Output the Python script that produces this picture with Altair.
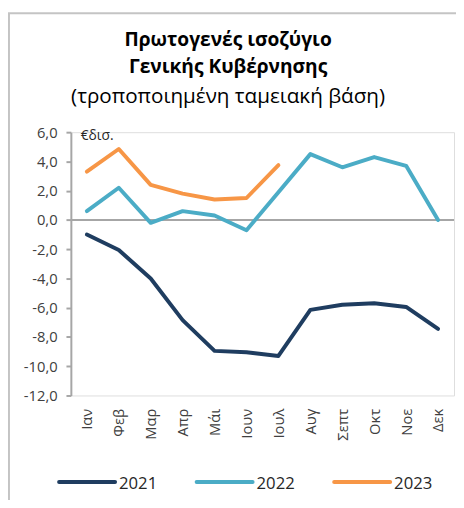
import altair as alt
import pandas as pd

months = ["Ιαν", "Φεβ", "Μαρ", "Απρ", "Μάι", "Ιουν", "Ιουλ", "Αυγ", "Σεπτ", "Οκτ", "Νοε", "Δεκ"]
v2021 = [-1.0, -2.05, -4.0, -6.85, -8.95, -9.05, -9.3, -6.15, -5.8, -5.7, -5.95, -7.45]
v2022 = [0.6, 2.2, -0.2, 0.6, 0.3, -0.7, 1.9, 4.5, 3.6, 4.3, 3.7, 0.0]
v2023 = [3.3, 4.85, 2.4, 1.8, 1.4, 1.5, 3.75, None, None, None, None, None]
years = ["2021", "2022", "2023"]
colors = ["#1f3d60", "#4bacc6", "#f79646"]
y_ticks = [-12, -10, -8, -6, -4, -2, 0, 2, 4, 6]
title_lines = ["Πρωτογενές ισοζύγιο", "Γενικής Κυβέρνησης", "(τροποποιημένη ταμειακή βάση)"]
unit_label = "€δισ."

rows = []
for yr, vals in zip(years, [v2021, v2022, v2023]):
    for m, v in zip(months, vals):
        if v is not None:
            rows.append({"month": m, "year": yr, "value": v})
df = pd.DataFrame(rows)

FONT = "Open Sans"
W, H = 390, 268
color_scale = alt.Scale(domain=years, range=colors)
y_scale = alt.Scale(domain=[-12, 6], nice=False, zero=False)
y_axis = alt.Axis(values=y_ticks, grid=False, domainColor="#a6a6a6", domainWidth=2,
                  tickColor="#a6a6a6", tickWidth=2, tickSize=5, labelPadding=9,
                  labelOverlap=False, labelFontSize=15, labelColor="#404040", labelFont=FONT,
                  labelExpr="(datum.value < 0 ? '-' : '') + replace(format(abs(datum.value), '.1f'), '.', ',')")

zero = alt.Chart(pd.DataFrame({"y": [0]})).mark_rule(color="#a6a6a6", strokeWidth=2).encode(
    y=alt.Y("y:Q", title=None, scale=y_scale, axis=y_axis))

lines = alt.Chart(df).mark_line(strokeWidth=4, strokeCap="round", strokeJoin="round").encode(
    x=alt.X("month:N", sort=months, title=None,
            scale=alt.Scale(type="point", padding=0.5, domain=months),
            axis=alt.Axis(labelAngle=-90, domain=False, ticks=False, labelPadding=13,
                          labelFontSize=15, labelColor="#404040", labelFont=FONT)),
    y=alt.Y("value:Q", title=None, scale=y_scale, axis=y_axis),
    color=alt.Color("year:N", scale=color_scale, legend=None),
)

border_left = alt.Chart(pd.DataFrame({"a": [0]})).mark_rule(color="#c4c4c4", strokeWidth=2).encode(
    x=alt.value(-63), y=alt.value(-121), y2=alt.value(400))
border_top = alt.Chart(pd.DataFrame({"a": [0]})).mark_rule(color="#c4c4c4", strokeWidth=2).encode(
    x=alt.value(-64), x2=alt.value(W + 10), y=alt.value(-121))

title_layers = []
for txt, yy, wt, fs in zip(title_lines, [-94, -66, -36], ["bold", "bold", "normal"], [19.5, 19.5, 21]):
    title_layers.append(
        alt.Chart(pd.DataFrame({"t": [txt]})).mark_text(
            font=FONT, fontSize=fs, fontWeight=wt, color="#000000", align="center", baseline="middle"
        ).encode(x=alt.value(160), y=alt.value(yy), text="t:N")
    )

unit = alt.Chart(pd.DataFrame({"t": [unit_label]})).mark_text(
    font=FONT, fontSize=14, color="#262626", align="left", baseline="middle"
).encode(x=alt.value(10), y=alt.value(4), text="t:N")

legend_layers = []
for i, yr in enumerate(years):
    x0 = -12 + i * 140
    ldf = pd.DataFrame({"year": [yr]})
    legend_layers.append(
        alt.Chart(ldf).mark_rule(strokeWidth=4, strokeCap="round").encode(
            x=alt.value(x0), x2=alt.value(x0 + 57), y=alt.value(356),
            color=alt.Color("year:N", scale=color_scale, legend=None))
    )
    legend_layers.append(
        alt.Chart(ldf).mark_text(font=FONT, fontSize=17, color="#262626", align="left", baseline="middle").encode(
            x=alt.value(x0 + 61), y=alt.value(358), text="year:N")
    )

chart = alt.layer(border_left, border_top, zero, lines, *title_layers, unit, *legend_layers).properties(
    width=W, height=H,
    autosize=alt.AutoSizeParams(type="none"),
    padding={"left": 64, "top": 122, "right": 2, "bottom": 102},
).configure_view(stroke=None).configure(background="white")

chart.save("out.html", embed_options={"renderer": "svg", "actions": False})
